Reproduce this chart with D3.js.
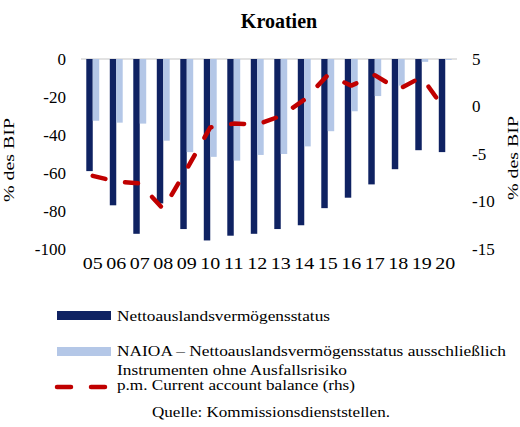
<!DOCTYPE html>
<html>
<head>
<meta charset="utf-8">
<script src="https://cdn.jsdelivr.net/npm/d3@7"></script>
<style>
  html, body { margin: 0; padding: 0; background: #fff; }
  svg { display: block; font-family: "Liberation Serif", "Times New Roman", serif; }
</style>
</head>
<body>
<svg id="chart" width="520" height="427"></svg>
<script>
// Kroatien: net international investment position and current account balance
const years = ["05","06","07","08","09","10","11","12","13","14","15","16","17","18","19","20"];
const niip  = [-59, -77, -92, -76, -89.5, -95.5, -93, -92, -89.5, -87.5, -78.5, -73, -66, -58, -48, -49];
const naioa = [-32.5, -33.5, -34, -43, -49, -51.5, -53.5, -50.5, -50, -46, -38, -27.5, -19.5, -14, -1.5, -0.5];
const currentAccount = [-7.3, -7.9, -8.1, -10.8, -6.6, -2.2, -1.8, -1.9, -1.0, 0.7, 3.3, 2.2, 3.3, 1.8, 3.1, -0.4];
const leftTicks  = [0, -20, -40, -60, -80, -100];
const rightTicks = [5, 0, -5, -10, -15];

const seriesNames = ["Nettoauslandsvermögensstatus", "NAIOA – Nettoauslandsvermögensstatus ausschließlich"];
const colors = { niip: "#0f2262", naioa: "#b4c7e7", ca: "#c00000", grid: "#d9d9d9" };

const svg = d3.select("#chart");

const x = d3.scaleBand().domain(years).range([81, 457]).paddingInner(0.45).paddingOuter(0.225);
const sub = d3.scaleBand().domain(["niip", "naioa"]).range([0, x.bandwidth()]);
const yL = d3.scaleLinear().domain([-100, 0]).range([249, 59]);
const yR = d3.scaleLinear().domain([-15, 5]).range([249, 59]);

// title
svg.append("text").attr("x", 279).attr("y", 28).attr("text-anchor", "middle")
  .attr("font-size", 20).attr("font-weight", "bold").attr("fill", "#000").text("Kroatien");

// zero line
svg.append("line").attr("x1", 81).attr("x2", 457).attr("y1", yL(0)).attr("y2", yL(0))
  .attr("stroke", colors.grid).attr("stroke-width", 1.5);

// bars
const groups = svg.append("g").selectAll("g").data(years).join("g")
  .attr("transform", d => `translate(${x(d)},0)`);
groups.append("rect")
  .attr("x", sub("niip")).attr("width", sub.bandwidth())
  .attr("y", (d, i) => yL(0)).attr("height", (d, i) => yL(niip[i]) - yL(0))
  .attr("fill", colors.niip);
groups.append("rect")
  .attr("x", sub("naioa")).attr("width", sub.bandwidth())
  .attr("y", (d, i) => yL(0)).attr("height", (d, i) => yL(naioa[i]) - yL(0))
  .attr("fill", colors.naioa);

// current account line (right axis)
const line = d3.line()
  .x((d, i) => x(years[i]) + x.bandwidth() / 2)
  .y(d => yR(d));
svg.append("path").datum(currentAccount).attr("d", line)
  .attr("fill", "none").attr("stroke", colors.ca).attr("stroke-width", 4.5)
  .attr("stroke-dasharray", "13,20").attr("stroke-linecap", "round").attr("stroke-linejoin", "round");

// axes
const axisL = svg.append("g").attr("transform", "translate(81,0)")
  .call(d3.axisLeft(yL).tickValues(leftTicks).tickSize(0).tickPadding(15).tickFormat(d3.format("d")));
const axisR = svg.append("g").attr("transform", "translate(457,0)")
  .call(d3.axisRight(yR).tickValues(rightTicks).tickSize(0).tickPadding(15).tickFormat(d3.format("d")));
const axisB = svg.append("g").attr("transform", "translate(0,249)")
  .call(d3.axisBottom(x).tickSize(0));
[axisL, axisR, axisB].forEach(a => {
  a.select(".domain").remove();
  a.selectAll("text").attr("font-family", "Liberation Serif, serif").attr("font-size", 17).attr("fill", "#000");
});
axisL.selectAll("text").text(d => d === 0 ? "0" : "-" + Math.abs(d));
axisR.selectAll("text").text(d => d < 0 ? "-" + Math.abs(d) : String(d));
axisB.selectAll("text").attr("y", 20).attr("dy", 0).attr("font-size", 16)
  .attr("textLength", 20).attr("lengthAdjust", "spacingAndGlyphs");

// axis titles
const yTitle = (cx, cy) => svg.append("text")
  .attr("transform", `translate(${cx},${cy}) rotate(-90)`)
  .attr("text-anchor", "middle").attr("font-size", 15).attr("fill", "#000")
  .attr("textLength", 84).attr("lengthAdjust", "spacingAndGlyphs")
  .text("% des BIP");
yTitle(13.5, 160);
yTitle(518, 158);

// legend
const legend = svg.append("g");
legend.append("rect").attr("x", 57).attr("y", 311).attr("width", 54).attr("height", 9).attr("fill", colors.niip);
legend.append("rect").attr("x", 57).attr("y", 347).attr("width", 54).attr("height", 9).attr("fill", colors.naioa);
legend.append("line").attr("x1", 57).attr("x2", 106).attr("y1", 387).attr("y2", 387)
  .attr("stroke", colors.ca).attr("stroke-width", 4.5).attr("stroke-linecap", "round")
  .attr("stroke-dasharray", "14,20");

const legendText = [
  { t: seriesNames[0], y: 321, w: 213 },
  { t: seriesNames[1], y: 356, w: 389 },
  { t: "Instrumenten ohne Ausfallsrisiko", y: 375, w: 230 },
  { t: "p.m. Current account balance (rhs)", y: 390, w: 238 }
];
legend.selectAll("text.lg").data(legendText).join("text").attr("class", "lg")
  .attr("x", 117).attr("y", d => d.y).attr("font-size", 15).attr("fill", "#000")
  .attr("textLength", d => d.w).attr("lengthAdjust", "spacingAndGlyphs")
  .text(d => d.t);

// source note
svg.append("text").attr("x", 152).attr("y", 417).attr("font-size", 15).attr("fill", "#000")
  .attr("textLength", 238).attr("lengthAdjust", "spacingAndGlyphs")
  .text("Quelle: Kommissionsdienststellen.");
</script>
</body>
</html>
